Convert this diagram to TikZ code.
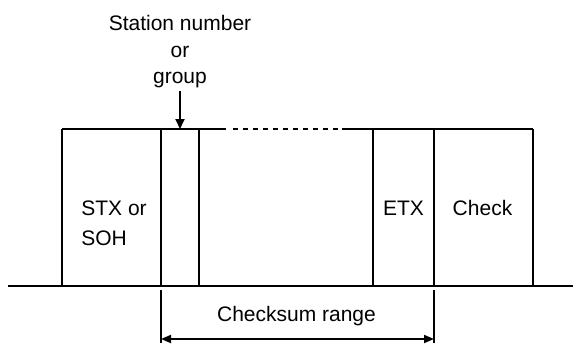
\documentclass[tikz,border=0pt]{standalone}
\usepackage{fontspec}
\setmainfont{Liberation Sans}
\usetikzlibrary{arrows.meta,positioning}
\tikzset{
  every node/.style={font=\fontsize{10.5}{13.3}\selectfont, text=black, inner sep=0pt},
  celltext/.style={font=\fontsize{10.5}{15}\selectfont},
  frame/.style={line width=0.9pt, draw=black},
  gapline/.style={frame, dash pattern=on 2.6pt off 2.4pt},
  pointer/.style={frame, -{Triangle[length=5pt,width=4.5pt]}},
  span/.style={frame, {Triangle[length=5pt,width=4pt]}-{Triangle[length=5pt,width=4pt]}}
}
\begin{document}
\begin{tikzpicture}[x=0.5pt,y=-0.5pt]
  \useasboundingbox (0,0) rectangle (573,343);

  % cell borders along the top
  \coordinate (topL)  at (62,129);
  \coordinate (dashA) at (226,129);
  \coordinate (dashS) at (233,129);
  \coordinate (dashB) at (342,129);
  \coordinate (topR)  at (533,129);
  \coordinate (baseL) at (8,286);
  \coordinate (baseR) at (573,286);

  \draw[frame] (topL) -- (dashA);
  \draw[gapline] (dashS) -- (dashB);
  \draw[frame] (dashB) -- (topR);
  \draw[frame] (baseL) -- (baseR);
  \foreach \x in {62,161,199,373,434,533} {
    \draw[frame] (\x,129) -- (\x,286);
  }

  % cell texts
  \node[celltext, align=left, anchor=north west] (stx) at (81,200) {STX or\\SOH};
  \node[celltext, anchor=base] (etx) at (403.5,215) {ETX};
  \node[celltext, anchor=base] (chk) at (482.5,215) {Check};

  % station number pointer
  \node[align=center, anchor=north] (stn) at (180,15) {Station number\\or\\group};
  \coordinate (stnFoot) at (180,91);
  \coordinate (stnTip) at (180,129);
  \draw[pointer] (stnFoot) -- (stnTip);

  % checksum range
  \coordinate (csL0) at (161,290);
  \coordinate (csR0) at (434,290);
  \coordinate (csL) at (161,343);
  \coordinate (csR) at (434,343);
  \coordinate (csArrL) at (161,339);
  \coordinate (csArrR) at (434,339);
  \draw[frame] (csL0) -- (csL);
  \draw[frame] (csR0) -- (csR);
  \node[anchor=base] (csum) at (296.5,321) {Checksum range};
  \draw[span] (csArrL) -- (csArrR);
\end{tikzpicture}
\end{document}
